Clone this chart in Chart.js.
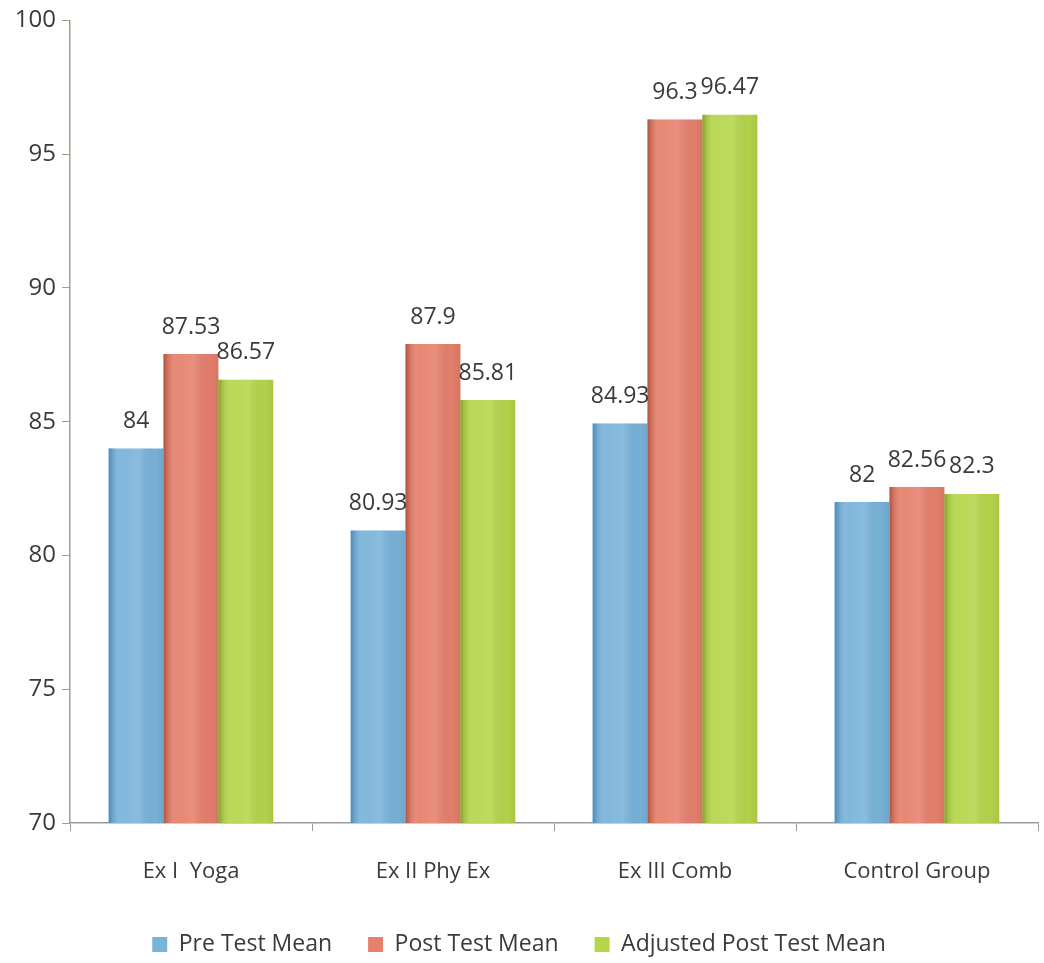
<!DOCTYPE html>
<html>
<head>
<meta charset="utf-8">
<script src="https://cdn.jsdelivr.net/npm/chart.js@4.4.1/dist/chart.umd.min.js"></script>
<style>
  html, body { margin: 0; padding: 0; background: #ffffff; }
  #wrap { width: 1044px; height: 963px; }
</style>
</head>
<body>
<div id="wrap"><canvas id="c" width="1044" height="963"></canvas></div>
<script>
// Group names along the x axis
const categories = ['Ex I  Yoga', 'Ex II Phy Ex', 'Ex III Comb', 'Control Group'];

// Mean scores per group
const preTestMean = [84, 80.93, 84.93, 82];
const postTestMean = [87.53, 87.9, 96.3, 82.56];
const adjustedPostTestMean = [86.57, 85.81, 96.47, 82.3];

const seriesNames = ['Pre Test Mean', 'Post Test Mean', 'Adjusted Post Test Mean'];

// Value axis range and step
const yMin = 70, yMax = 100, yStep = 5;

const FONT = "'Open Sans', 'Liberation Sans', sans-serif";
const baseColors = ['#79b3da', '#e6806d', '#b6d54b'];
const edgeColors = ['#4b86b3', '#a9503f', '#7f9c2e'];

function hexA(hex, a) {
  const n = parseInt(hex.slice(1), 16);
  return `rgba(${(n >> 16) & 255},${(n >> 8) & 255},${n & 255},${a})`;
}

// Cylinder-like horizontal shading laid over each bar
const barShading = {
  id: 'barShading',
  afterDatasetsDraw(chart) {
    const ctx = chart.ctx;
    const area = chart.chartArea;
    chart.data.datasets.forEach((ds, di) => {
      const meta = chart.getDatasetMeta(di);
      meta.data.forEach(el => {
        const left = el.x - el.width / 2;
        const right = el.x + el.width / 2;
        const top = Math.max(area.top, Math.min(el.y, el.base));
        const bottom = Math.min(area.bottom, Math.max(el.y, el.base));
        const g = ctx.createLinearGradient(left, 0, right, 0);
        g.addColorStop(0, hexA(edgeColors[di], 0.9));
        g.addColorStop(0.07, hexA(edgeColors[di], 0.35));
        g.addColorStop(0.25, 'rgba(255,255,255,0.06)');
        g.addColorStop(0.55, 'rgba(255,255,255,0.12)');
        g.addColorStop(0.85, 'rgba(0,0,0,0.02)');
        g.addColorStop(1, 'rgba(0,0,0,0.08)');
        ctx.save();
        ctx.fillStyle = g;
        ctx.fillRect(left, top, right - left, bottom - top);
        ctx.restore();
      });
    });
  }
};

// Value labels above each bar
const valueLabels = {
  id: 'valueLabels',
  afterDatasetsDraw(chart) {
    const ctx = chart.ctx;
    ctx.save();
    ctx.font = `23px ${FONT}`;
    ctx.fillStyle = '#3a3a3a';
    ctx.textAlign = 'center';
    ctx.textBaseline = 'middle';
    chart.data.datasets.forEach((ds, di) => {
      const meta = chart.getDatasetMeta(di);
      meta.data.forEach((el, i) => {
        ctx.fillText(String(ds.data[i]), el.x, el.y - 27);
      });
    });
    ctx.restore();
  }
};

const seriesData = [preTestMean, postTestMean, adjustedPostTestMean];

new Chart(document.getElementById('c'), {
  type: 'bar',
  data: {
    labels: categories,
    datasets: seriesNames.map((name, i) => ({
      label: name,
      data: seriesData[i],
      backgroundColor: baseColors[i],
      borderWidth: 0,
      categoryPercentage: 0.68,
      barPercentage: 1.0
    }))
  },
  options: {
    responsive: false,
    animation: false,
    devicePixelRatio: 1,
    layout: { padding: { top: 20, right: 6, left: 0, bottom: -3 } },
    plugins: {
      legend: {
        position: 'bottom',
        labels: {
          font: { family: FONT, size: 23 },
          color: '#3a3a3a',
          boxWidth: 15,
          boxHeight: 15,
          padding: 36
        }
      },
      tooltip: { enabled: false }
    },
    scales: {
      x: {
        afterFit(scale) { scale.height = 74; },
        grid: {
          display: true,
          drawOnChartArea: false,
          drawTicks: true,
          tickLength: 8,
          color: '#9a9a9a',
          offset: true
        },
        border: { display: true, color: '#9a9a9a', width: 1.5 },
        ticks: {
          font: { family: FONT, size: 22 },
          color: '#3a3a3a',
          padding: 28
        }
      },
      y: {
        min: yMin,
        max: yMax,
        afterFit(scale) { scale.width = 70; },
        grid: {
          display: true,
          drawOnChartArea: false,
          drawTicks: true,
          tickLength: 8,
          color: '#9aa38a'
        },
        border: { display: true, color: '#9aa38a', width: 1.5 },
        ticks: {
          stepSize: yStep,
          font: { family: FONT, size: 24 },
          color: '#3a3a3a',
          padding: 6
        }
      }
    }
  },
  plugins: [barShading, valueLabels]
});
</script>
</body>
</html>
